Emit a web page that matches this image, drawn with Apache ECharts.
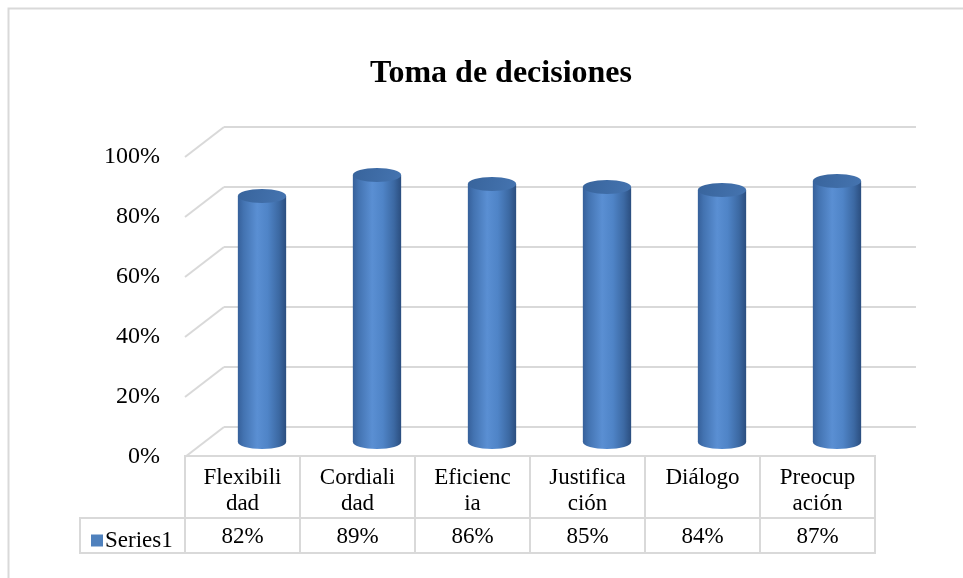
<!DOCTYPE html>
<html>
<head>
<meta charset="utf-8">
<script src="https://cdn.jsdelivr.net/npm/echarts@6/dist/echarts.min.js"></script>
<style>
  html, body { margin: 0; padding: 0; background: #fff; }
  #chart { width: 963px; height: 578px; }
</style>
</head>
<body>
<div id="chart"></div>
<script>
const categories = ['Flexibilidad', 'Cordialidad', 'Eficiencia', 'Justificación', 'Diálogo', 'Preocupación']
// wrapped as in the data table cells
const categoryLabels = ['Flexibili\ndad', 'Cordiali\ndad', 'Eficienc\nia', 'Justifica\nción', 'Diálogo', 'Preocup\nación']
const values = [0.82, 0.89, 0.86, 0.85, 0.84, 0.87]
const yTicks = [0, 0.2, 0.4, 0.6, 0.8, 1]

const FONT = 'Liberation Serif'
const GRID_LINE = '#d9d9d9'
const DEPTH_X = 39
const DEPTH_Y = -30

const chart = echarts.init(document.getElementById('chart'))

const pct = (v) => Math.round(v * 100) + '%'

function bodyFill() {
  return new echarts.graphic.LinearGradient(0, 0, 1, 0, [
    { offset: 0, color: '#36609a' },
    { offset: 0.12, color: '#4373b1' },
    { offset: 0.4, color: '#5a8fd3' },
    { offset: 0.62, color: '#4f84c7' },
    { offset: 0.85, color: '#3c69a3' },
    { offset: 1, color: '#2b4e7f' },
  ])
}

function topFill() {
  return new echarts.graphic.LinearGradient(0, 0, 1, 1, [
    { offset: 0, color: '#38649c' },
    { offset: 1, color: '#4574b0' },
  ])
}

function renderCylinder(params, api) {
  const idx = api.value(0)
  const top = api.coord([idx, api.value(1)])
  const base = api.coord([idx, 0])
  const w = api.size([1, 0])[0] * 0.42
  const rx = w / 2
  const ry = 7
  return {
    type: 'group',
    children: [
      { type: 'ellipse', shape: { cx: base[0], cy: base[1], rx, ry }, style: { fill: bodyFill() } },
      { type: 'rect', shape: { x: top[0] - rx, y: top[1], width: w, height: base[1] - top[1] }, style: { fill: bodyFill() } },
      { type: 'ellipse', shape: { cx: top[0], cy: top[1], rx, ry }, style: { fill: topFill() } },
    ],
  }
}

// side wall diagonals joining front ticks to back wall gridlines
function renderDiagonal(params, api) {
  const y = api.coord([0, api.value(0)])[1]
  const x = params.coordSys.x
  return {
    type: 'line',
    shape: { x1: x, y1: y, x2: x + DEPTH_X, y2: y + DEPTH_Y },
    style: { stroke: GRID_LINE, lineWidth: 2 },
  }
}

// data table under the floor
function renderTable(params, api) {
  const idx = api.value(0)
  const p = api.coord([idx, 0])
  const band = api.size([1, 0])[0]
  const x0 = p[0] - band / 2
  const top = p[1] - 1
  const row1 = 62
  const row2 = 35
  return {
    type: 'group',
    children: [
      { type: 'rect', shape: { x: x0, y: top, width: band, height: row1 }, style: { fill: 'none', stroke: GRID_LINE, lineWidth: 2 } },
      { type: 'rect', shape: { x: x0, y: top + row1, width: band, height: row2 }, style: { fill: 'none', stroke: GRID_LINE, lineWidth: 2 } },
      {
        type: 'text',
        style: {
          x: p[0], y: top + 9, text: categoryLabels[idx], align: 'center', verticalAlign: 'top',
          fontFamily: FONT, fontSize: 23, lineHeight: 26, fill: '#000',
        },
      },
      {
        type: 'text',
        style: {
          x: p[0], y: top + row1 + row2 / 2 + 1, text: pct(api.value(1)), align: 'center', verticalAlign: 'middle',
          fontFamily: FONT, fontSize: 23, fill: '#000',
        },
      },
    ],
  }
}

const option = {
  animation: false,
  backgroundColor: '#fff',
  title: {
    text: 'Toma de decisiones',
    left: 500,
    top: 53,
    textAlign: 'center',
    textStyle: { fontFamily: FONT, fontSize: 32, fontWeight: 'bold', color: '#000' },
  },
  legend: {
    left: 86,
    top: 524,
    itemWidth: 12,
    itemHeight: 12,
    itemGap: 0,
    data: [{ name: 'Series1', icon: 'rect', itemStyle: { color: '#4f81bd' } }],
    textStyle: { fontFamily: FONT, fontSize: 23, color: '#000', padding: [0, 0, 0, -3] },
  },
  graphic: [
    { type: 'rect', shape: { x: 8.5, y: 8.5, width: 1000, height: 1000 }, style: { fill: 'none', stroke: GRID_LINE, lineWidth: 2 }, silent: true },
    { type: 'rect', shape: { x: 80, y: 518, width: 105, height: 35 }, style: { fill: 'none', stroke: GRID_LINE, lineWidth: 2 }, silent: true },
  ],
  grid: [
    // front plane: tick labels, table
    { left: 185, right: 88, top: 157, bottom: 121 },
    // back wall
    { left: 224, right: 47, top: 127, bottom: 151 },
    // mid depth: cylinders
    { left: 204.5, right: 68.5, top: 142, bottom: 136 },
  ],
  xAxis: [0, 1, 2].map((i) => ({
    type: 'category',
    gridIndex: i,
    data: categories,
    show: false,
  })),
  yAxis: [
    {
      type: 'value', gridIndex: 0, min: 0, max: 1, interval: 0.2,
      axisLine: { show: false }, axisTick: { show: false }, splitLine: { show: false },
      axisLabel: { formatter: pct, fontFamily: FONT, fontSize: 24, color: '#000', margin: 25 },
    },
    {
      type: 'value', gridIndex: 1, min: 0, max: 1, interval: 0.2,
      axisLine: { show: false }, axisTick: { show: false }, axisLabel: { show: false },
      splitLine: { lineStyle: { color: GRID_LINE, width: 2 } },
    },
    {
      type: 'value', gridIndex: 2, min: 0, max: 1, interval: 0.2,
      show: false, splitLine: { show: false },
    },
  ],
  series: [
    {
      type: 'custom',
      xAxisIndex: 0,
      yAxisIndex: 0,
      silent: true,
      clip: false,
      renderItem: renderDiagonal,
      data: yTicks.map((v) => [v]),
      encode: { y: 0 },
      z: 1,
    },
    {
      type: 'custom',
      name: 'Series1',
      xAxisIndex: 2,
      yAxisIndex: 2,
      clip: false,
      renderItem: renderCylinder,
      itemStyle: { color: '#4f81bd' },
      data: values.map((v, i) => [i, v]),
      encode: { x: 0, y: 1 },
      z: 3,
    },
    {
      type: 'custom',
      xAxisIndex: 0,
      yAxisIndex: 0,
      silent: true,
      clip: false,
      renderItem: renderTable,
      data: values.map((v, i) => [i, v]),
      encode: { x: 0, y: 1 },
      z: 2,
    },
  ],
}

// nudge the title a little left to sit where the original one does
option.title.left = 496

chart.setOption(option)
</script>
</body>
</html>
